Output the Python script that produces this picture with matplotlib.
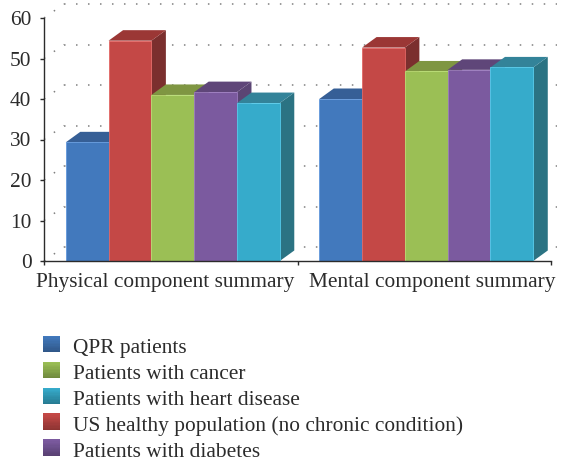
import matplotlib
matplotlib.use("Agg")
import matplotlib.pyplot as plt
from matplotlib.patches import Polygon, Rectangle
from matplotlib.legend_handler import HandlerBase
from matplotlib.colors import to_rgb
from matplotlib.transforms import ScaledTranslation
import numpy as np

categories = ["Physical component summary", "Mental component summary"]
series_names = ["QPR patients", "US healthy population (no chronic condition)",
                "Patients with cancer", "Patients with diabetes", "Patients with heart disease"]
qpr = [29.3, 40.0]
healthy = [54.4, 52.7]
cancer = [41.0, 46.8]
diabetes = [41.7, 47.2]
heart = [39.0, 47.8]
series_values = [qpr, healthy, cancer, diabetes, heart]
front_colors = ["#4279BD", "#C44846", "#9BBF55", "#7B5A9F", "#36ABCB"]
top_colors = ["#365F96", "#9B3735", "#7F9642", "#5F4679", "#338399"]
side_colors = ["#2F5282", "#7B2F2E", "#6B7F38", "#5B4574", "#2B7383"]
legend_order = [0, 2, 4, 1, 3]
yticks = [0, 10, 20, 30, 40, 50, 60]

W, H = 568, 463
FS = 15.4
plt.rcParams["font.family"] = ["Liberation Serif", "DejaVu Serif"]
TXT = "#2b2b2b"
fig = plt.figure(figsize=(W / 100, H / 100), dpi=100)
ax = fig.add_axes([44 / W, (H - 261) / H, 507 / W, 243 / H])
ax.set_xlim(-0.5, 1.5)
ax.set_ylim(0, 60)
px_x = 2 / 507
px_y = 60 / 243

# back wall dotted gridlines
wall_dx, wall_dy = 20 * px_x, 14 * px_y
dots = dict(color="#808080", lw=1.1, ls=(0, (1, 6.85)), clip_on=False, zorder=1)
x_end = 1.5 + 6 * px_x
for t in yticks:
    ax.plot([-0.5 + wall_dx, x_end], [t + wall_dy, t + wall_dy], **dots)
    ax.plot([-0.5, -0.5 + wall_dx], [t, t + wall_dy], **dots)

# bars
bar_w = 42.8 * 2 / 507
dx, dy = 14.5 * px_x, 10.5 * px_y
n = len(series_values)
for i, vals in enumerate(series_values):
    xs = np.arange(len(categories)) + (i - (n - 1) / 2) * bar_w + 0.008
    bars = ax.bar(xs, vals, width=bar_w, color=front_colors[i], zorder=3 + i,
                  edgecolor=[min(1, c + 0.12) for c in to_rgb(front_colors[i])], linewidth=0.6)
    for b in bars:
        x0, x1, h = b.get_x(), b.get_x() + b.get_width(), b.get_height()
        ax.add_patch(Polygon([(x1, 0), (x1 + dx, dy), (x1 + dx, h + dy), (x1, h)],
                             fc=side_colors[i], ec="none", zorder=3 + i - 0.2, clip_on=False))
        ax.add_patch(Polygon([(x0, h), (x0 + dx, h + dy), (x1 + dx, h + dy), (x1, h)],
                             fc=top_colors[i], ec="none", zorder=3 + i - 0.1, clip_on=False))

for s in ("top", "right"):
    ax.spines[s].set_visible(False)
for s in ("left", "bottom"):
    ax.spines[s].set_linewidth(1.0)
    ax.spines[s].set_color("#2b2b2b")
    ax.spines[s].set_zorder(20)

ax.set_yticks(yticks)
ax.set_xticks([-0.5, 0.5, 1.5])
ax.set_xticklabels([])
ax.set_xticks([0, 1], minor=True)
ax.set_xticklabels(categories, minor=True)
ax.tick_params(axis="x", which="minor", length=0, pad=8.5, labelsize=FS, labelcolor=TXT)
ax.tick_params(axis="x", which="major", length=3, width=1, color="#2b2b2b")
ax.tick_params(axis="y", length=3, width=1, color="#2b2b2b", pad=6, labelsize=FS, labelcolor=TXT)
for lab, off in zip(ax.get_xticklabels(minor=True), [-6, 8]):
    lab.set_ha("center")
    lab.set_transform(lab.get_transform() + ScaledTranslation(off / 100, 0, fig.dpi_scale_trans))


class GradientSwatch(HandlerBase):
    def create_artists(self, legend, orig, xd, yd, width, height, fontsize, trans):
        top = np.array(to_rgb(orig.get_facecolor()))
        bottom = top * 0.72
        k = 12
        return [Rectangle((xd, yd + height * j / k), width, height / k + 0.3,
                          fc=bottom + (top - bottom) * j / (k - 1), ec="none", transform=trans)
                for j in range(k)]


handles = [Rectangle((0, 0), 1, 1, fc=front_colors[i]) for i in legend_order]
labels = [series_names[i] for i in legend_order]
leg = fig.legend(handles, labels, loc="upper left", bbox_to_anchor=(43 / W, 1 - 337.5 / H),
                 bbox_transform=fig.transFigure, frameon=False, fontsize=FS,
                 borderaxespad=0, borderpad=0, labelspacing=0.25, handlelength=0.8,
                 handleheight=0.8, handletextpad=0.6, labelcolor=TXT,
                 handler_map={Rectangle: GradientSwatch()})
fig.savefig("out.png", dpi=100)
